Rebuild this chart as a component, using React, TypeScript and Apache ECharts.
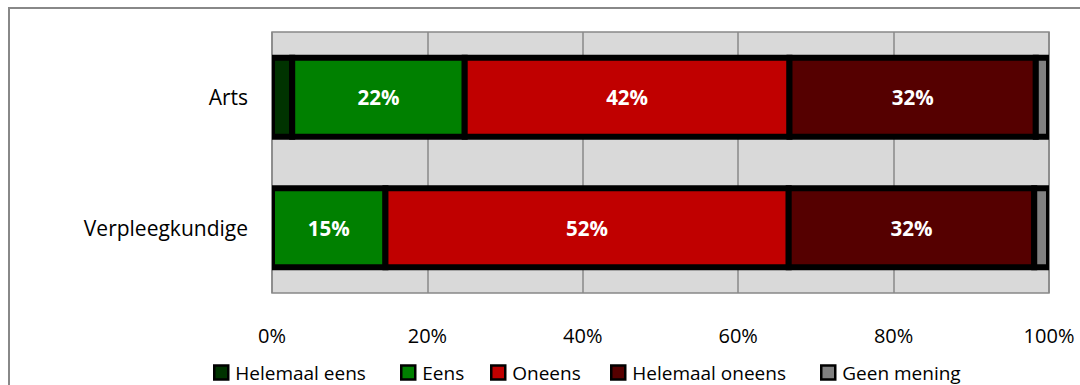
import React, { useEffect, useRef } from "react";
import * as echarts from "echarts";

const categories = ["Arts", "Verpleegkundige"];
const seriesNames = ["Helemaal eens", "Eens", "Oneens", "Helemaal oneens", "Geen mening"];
const helemaalEens = [2.6, 0];
const eens = [22.2, 14.6];
const oneens = [41.8, 51.9];
const helemaalOneens = [31.7, 31.6];
const geenMening = [1.7, 1.9];
const seriesValues = [helemaalEens, eens, oneens, helemaalOneens, geenMening];
const colors = ["#003300", "#008000", "#c00000", "#550000", "#808080"];
const xTicks = ["0%", "20%", "40%", "60%", "80%", "100%"];
const legendLefts = [213, 400, 490, 610, 820];

const FONT = "'Open Sans', 'Noto Sans', sans-serif";

// cumulative stacking of the arrays above: [start, end, categoryIndex, value]
function stackedData(): number[][][] {
  const acc = categories.map(() => 0);
  return seriesValues.map((vals) =>
    vals
      .map((v, c) => {
        const start = acc[c];
        acc[c] += v;
        return [start, start + v, c, v];
      })
      .filter((d) => d[3] > 0)
  );
}

export default function App() {
  const ref = useRef<HTMLDivElement>(null);
  useEffect(() => {
    document.body.style.margin = "0";
    document.body.style.overflow = "hidden";
    const chart = echarts.init(ref.current!, null, { renderer: "svg" });
    const data = stackedData();
    chart.setOption({
      animation: false,
      grid: {
        left: 272,
        top: 32,
        width: 777,
        height: 261,
        show: true,
        backgroundColor: "#d9d9d9",
        borderColor: "#888888",
        borderWidth: 1.5,
      },
      xAxis: {
        type: "value",
        min: 0,
        max: 100,
        interval: 20,
        axisLine: { show: false },
        axisTick: { show: false },
        splitLine: { show: true, lineStyle: { color: "#888888", width: 1.5 } },
        axisLabel: {
          margin: 32,
          fontFamily: FONT,
          fontSize: 20,
          color: "#000",
          formatter: (v: number) => xTicks[Math.round(v / 20)],
        },
      },
      yAxis: {
        type: "category",
        data: categories,
        inverse: true,
        axisLine: { show: false },
        axisTick: { show: false },
        axisLabel: { margin: 24, fontFamily: FONT, fontSize: 21, color: "#000" },
      },
      legend: seriesNames.map((name, i) => ({
        left: legendLefts[i],
        top: 363,
        padding: 0,
        itemWidth: 14,
        itemHeight: 14,
        icon: "rect",
        textStyle: { fontFamily: FONT, fontSize: 19, color: "#000", padding: [0, 0, 0, 2] },
        itemStyle: { color: colors[i], borderColor: "#000", borderWidth: 2.5 },
        data: [name],
      })),
      series: seriesNames.map((name, i) => ({
        name,
        type: "custom",
        clip: true,
        itemStyle: { color: colors[i] },
        encode: { x: [0, 1], y: 2 },
        data: data[i],
        renderItem: (params: any, api: any) => {
          const s = api.value(0);
          const e = api.value(1);
          const c = api.value(2);
          const v = api.value(3);
          const p0 = api.coord([s, c]);
          const p1 = api.coord([e, c]);
          const band = api.size([0, 1])[1];
          const h = band * 0.605;
          const rect = {
            x: p0[0],
            y: p0[1] - h / 2,
            width: p1[0] - p0[0],
            height: h,
          };
          const clipped = echarts.graphic.clipRectByRect(rect, {
            x: params.coordSys.x - 3,
            y: params.coordSys.y,
            width: params.coordSys.width + 6,
            height: params.coordSys.height,
          });
          return {
            type: "rect",
            shape: clipped || rect,
            style: { fill: colors[i], stroke: "#000", lineWidth: 6 },
            textContent:
              v >= 10
                ? {
                    style: {
                      text: Math.round(v) + "%",
                      fill: "#fff",
                      fontFamily: FONT,
                      fontWeight: "bold",
                      fontSize: 20.5,
                    },
                  }
                : undefined,
            textConfig: { position: "inside" },
          };
        },
      })),
    });
    return () => chart.dispose();
  }, []);
  return (
    <div style={{ position: "fixed", left: 0, top: 0, width: 1080, height: 385, overflow: "hidden", background: "#fff" }}>
      <div ref={ref} style={{ position: "absolute", left: 0, top: 0, width: 1080, height: 385 }} />
      <div
        style={{
          position: "absolute",
          left: 8,
          top: 7,
          width: 1200,
          height: 500,
          borderLeft: "2px solid #888",
          borderTop: "2px solid #888",
          pointerEvents: "none",
        }}
      />
    </div>
  );
}
